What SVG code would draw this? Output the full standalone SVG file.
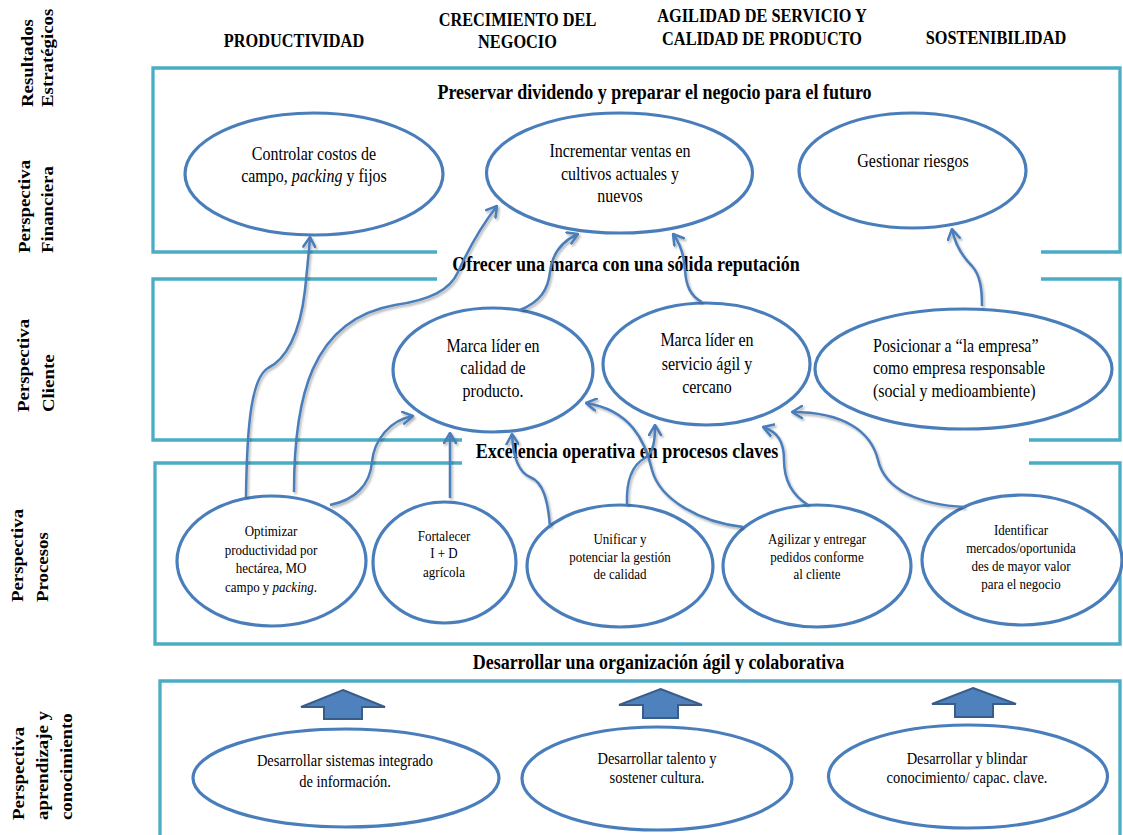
<svg xmlns="http://www.w3.org/2000/svg" width="1123" height="835" viewBox="0 0 1123 835">
<defs>
<style>
text{font-family:"Liberation Serif","Times New Roman",serif;fill:#000}
.hd{font-size:16.3px;font-weight:bold;text-anchor:middle}
.st{font-size:18px;font-weight:bold;text-anchor:middle}
.rl{font-size:15.7px;font-weight:bold}
.t16{font-size:16px;text-anchor:middle}
.t16s{font-size:16px}
.t13{font-size:13px;text-anchor:middle}
.t145{font-size:14.5px;text-anchor:middle}
.fr{fill:none;stroke:#4BACC6;stroke-width:3.3}
.el{fill:#fff;stroke:#4A7EBB;stroke-width:3.2}
.cn{fill:none;stroke:#4A7EBB;stroke-width:2.5;marker-end:url(#ah)}
.ba{fill:#4F81BD;stroke:#385D8A;stroke-width:2}
</style>
<marker id="ah" viewBox="0 0 12 14" refX="11" refY="7" markerWidth="12" markerHeight="14" markerUnits="userSpaceOnUse" orient="auto">
<path d="M1,1 L11,7 L1,13" fill="none" stroke="#4A7EBB" stroke-width="2.5" stroke-linecap="round" stroke-linejoin="round"/>
</marker>
<filter id="sh" x="-10%" y="-10%" width="120%" height="120%">
<feDropShadow dx="1.5" dy="2" stdDeviation="1.2" flood-color="#000" flood-opacity="0.3"/>
</filter>
</defs>
<rect width="1123" height="835" fill="#fff"/>

<g id="frames">
<path class="fr" d="M437,252 H153 V68 H1120 V252 H1041"/>
<path class="fr" d="M437,279 H153 V440 H462 M1029,440 H1120 V279 H1041"/>
<path class="fr" d="M462,463 H155 V644 H1120 V463 H1029"/>
<path class="fr" d="M160,840 V681 H1120 V840"/>
</g>

<g id="row-labels">
<text class="rl" transform="translate(33,107) rotate(-90) scale(1.2,1)">Resultados</text>
<text class="rl" transform="translate(53,107) rotate(-90) scale(1.2,1)">Estratégicos</text>
<text class="rl" transform="translate(30,253) rotate(-90) scale(1.2,1)">Perspectiva</text>
<text class="rl" transform="translate(53,253) rotate(-90) scale(1.2,1)">Financiera</text>
<text class="rl" transform="translate(29,412) rotate(-90) scale(1.2,1)">Perspectiva</text>
<text class="rl" transform="translate(54,412) rotate(-90) scale(1.2,1)">Cliente</text>
<text class="rl" transform="translate(23,602) rotate(-90) scale(1.2,1)">Perspectiva</text>
<text class="rl" transform="translate(48,602) rotate(-90) scale(1.2,1)">Procesos</text>
<text class="rl" transform="translate(24,820) rotate(-90) scale(1.2,1)">Perspectiva</text>
<text class="rl" transform="translate(48,820) rotate(-90) scale(1.2,1)">aprendizaje y</text>
<text class="rl" transform="translate(72,820) rotate(-90) scale(1.2,1)">conocimiento</text>
</g>

<g id="headers">
<text class="hd" transform="scale(1 1.2)" x="294" y="39.17">PRODUCTIVIDAD</text>
<text class="hd" transform="scale(1 1.2)"><tspan x="517.5" y="21.67">CRECIMIENTO DEL</tspan><tspan x="517.5" y="40.25">NEGOCIO</tspan></text>
<text class="hd" transform="scale(1 1.2)"><tspan x="762" y="18.06">AGILIDAD DE SERVICIO Y</tspan><tspan x="762" y="37.5">CALIDAD DE PRODUCTO</tspan></text>
<text class="hd" transform="scale(1 1.2)" x="996" y="36.9">SOSTENIBILIDAD</text>
</g>

<g id="section-titles">
<text class="st" transform="scale(1 1.2)" x="654.5" y="82.5">Preservar dividendo y preparar el negocio para el futuro</text>
<text class="st" transform="scale(1 1.2)" x="626" y="225.8">Ofrecer una marca con una sólida reputación</text>
<text class="st" transform="scale(1 1.2)" x="627" y="381.67">Excelencia operativa en procesos claves</text>
<text class="st" transform="scale(1 1.2)" x="658.5" y="557.5">Desarrollar una organización ágil y colaborativa</text>
</g>

<g id="n-controlar">
<ellipse class="el" cx="314" cy="174" rx="129" ry="61"/>
<text class="t16" transform="scale(1 1.2)"><tspan x="314" y="133.33">Controlar costos de</tspan><tspan x="314" y="152.08">campo, <tspan font-style="italic">packing</tspan> y fijos</tspan></text>
</g>
<g id="n-incrementar">
<ellipse class="el" cx="619.5" cy="173" rx="133" ry="60"/>
<text class="t16" transform="scale(1 1.2)"><tspan x="620" y="130.83">Incrementar ventas en</tspan><tspan x="620" y="150">cultivos actuales y</tspan><tspan x="620" y="168.33">nuevos</tspan></text>
</g>
<g id="n-gestionar">
<ellipse class="el" cx="912.5" cy="170.5" rx="113.5" ry="57.5"/>
<text class="t16" transform="scale(1 1.2)" x="913" y="139.17">Gestionar riesgos</text>
</g>

<g id="n-marca-calidad">
<ellipse class="el" cx="493" cy="370" rx="100" ry="62"/>
<text class="t16" transform="scale(1 1.2)"><tspan x="493" y="293.33">Marca líder en</tspan><tspan x="493" y="312.08">calidad de</tspan><tspan x="493" y="330.83">producto.</tspan></text>
</g>
<g id="n-marca-servicio">
<ellipse class="el" cx="706.5" cy="364" rx="103.5" ry="61"/>
<text class="t16" transform="scale(1 1.2)"><tspan x="707" y="288.33">Marca líder en</tspan><tspan x="707" y="308.33">servicio ágil y</tspan><tspan x="707" y="327.22">cercano</tspan></text>
</g>
<g id="n-posicionar">
<ellipse class="el" cx="963.5" cy="369" rx="148.5" ry="60"/>
<text class="t16s" transform="scale(1 1.2)"><tspan x="873" y="293.06">Posicionar a “la empresa”</tspan><tspan x="873" y="311.67">como empresa responsable</tspan><tspan x="873" y="331.11">(social y medioambiente)</tspan></text>
</g>

<g id="n-optimizar">
<ellipse class="el" cx="271.5" cy="561" rx="94.5" ry="65"/>
<text class="t13" transform="scale(1 1.2)"><tspan x="271" y="446.67">Optimizar</tspan><tspan x="271" y="462.5">productividad por</tspan><tspan x="271" y="477.22">hectárea, MO</tspan><tspan x="271" y="493.06">campo y <tspan font-style="italic">packing</tspan>.</tspan></text>
</g>
<g id="n-fortalecer">
<ellipse class="el" cx="444.5" cy="562.5" rx="71.5" ry="60.5"/>
<text class="t13" transform="scale(1 1.2)"><tspan x="444" y="450.56">Fortalecer</tspan><tspan x="444" y="465.28">I + D</tspan><tspan x="444" y="480.56">agrícola</tspan></text>
</g>
<g id="n-unificar">
<ellipse class="el" cx="620" cy="566" rx="93" ry="61"/>
<text class="t13" transform="scale(1 1.2)"><tspan x="620" y="453.33">Unificar y</tspan><tspan x="620" y="468.06">potenciar la gestión</tspan><tspan x="620" y="482.78">de calidad</tspan></text>
</g>
<g id="n-agilizar">
<ellipse class="el" cx="817" cy="566" rx="94" ry="61"/>
<text class="t13" transform="scale(1 1.2)"><tspan x="817" y="453.33">Agilizar y entregar</tspan><tspan x="817" y="468.06">pedidos conforme</tspan><tspan x="817" y="482.78">al cliente</tspan></text>
</g>
<g id="n-identificar">
<ellipse class="el" cx="1022" cy="560" rx="100" ry="65"/>
<text class="t13" transform="scale(1 1.2)"><tspan x="1021" y="445.83">Identificar</tspan><tspan x="1021" y="460.83">mercados/oportunida</tspan><tspan x="1021" y="475.83">des de mayor valor</tspan><tspan x="1021" y="490.83">para el negocio</tspan></text>
</g>

<g id="n-sistemas">
<ellipse class="el" cx="346" cy="778" rx="153" ry="49"/>
<text class="t145" transform="scale(1 1.2)"><tspan x="345" y="638.33">Desarrollar sistemas integrado</tspan><tspan x="345" y="655.83">de información.</tspan></text>
</g>
<g id="n-talento">
<ellipse class="el" cx="657" cy="778.5" rx="135" ry="51.5"/>
<text class="t145" transform="scale(1 1.2)"><tspan x="657" y="636.67">Desarrollar talento y</tspan><tspan x="657" y="652.5">sostener cultura.</tspan></text>
</g>
<g id="n-conocimiento">
<ellipse class="el" cx="968" cy="776.5" rx="139.5" ry="51.5"/>
<text class="t145" transform="scale(1 1.2)"><tspan x="967" y="636.67">Desarrollar y blindar</tspan><tspan x="967" y="652.5">conocimiento/ capac. clave.</tspan></text>
</g>

<g id="block-arrows">
<polygon class="ba" points="343,690 385,707 362,707 362,719 324,719 324,707 301,707"/>
<polygon class="ba" points="660.5,689 702,705 678,705 678,718 643,718 643,705 619,705"/>
<polygon class="ba" points="973,688 1016,704 993,704 993,717 955,717 955,704 932,704"/>
</g>

<g id="connectors" filter="url(#sh)">
<path class="cn" d="M246,497 C247,420 252,378 268,368 C285,360 300,335 305,290 C307,270 309,252 310,237"/>
<path class="cn" d="M294,492 C294,400 310,320 395,305 C430,300 450,290 458,272 C468,250 482,225 497,206"/>
<path class="cn" d="M520,310 C540,302 548,290 550,272 C552,255 560,242 578,234"/>
<path class="cn" d="M702,302 C690,296 686,285 685,270 C684,255 680,243 673,234"/>
<path class="cn" d="M982,306 C982,288 980,275 972,266 C962,256 955,245 952,229"/>
<path class="cn" d="M330,505 C355,500 370,485 372,462 C374,440 390,420 413,416"/>
<path class="cn" d="M450,498 V433"/>
<path class="cn" d="M550,527 C548,500 543,482 530,477 C518,472 513,455 512,434"/>
<path class="cn" d="M627,505 C626,480 632,465 645,458 C654,452 655,440 655,425"/>
<path class="cn" d="M743,527 C700,522 660,500 652,470 C645,440 630,410 586,403"/>
<path class="cn" d="M808,505 C792,495 784,480 784,460 C784,442 778,432 763,427"/>
<path class="cn" d="M965,507 C920,505 885,490 878,460 C871,432 845,412 792,412"/>
</g>
</svg>
